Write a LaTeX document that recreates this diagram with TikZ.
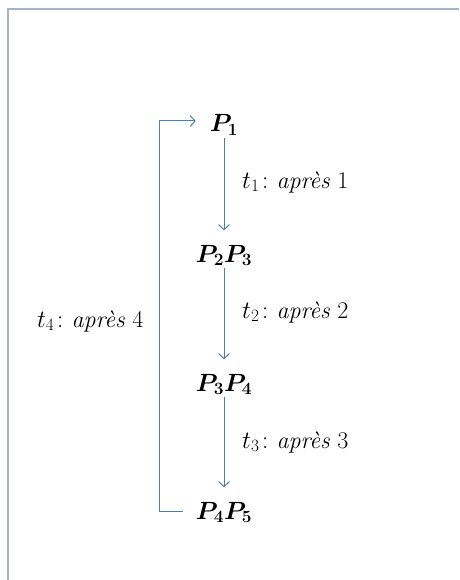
\documentclass[tikz,border=0pt]{standalone}
\usepackage{amsmath}
\usetikzlibrary{arrows.meta}
\definecolor{arrblue}{HTML}{4A7EBB}
\definecolor{framegrey}{HTML}{A5B3C9}
\begin{document}
\begin{tikzpicture}[x=1pt,y=-1pt,
  every node/.style={font=\fontsize{24}{28}\selectfont, inner sep=0pt},
  place/.style={anchor=base},
  lbl/.style={anchor=base west},
  arr/.style={draw=arrblue, line width=1pt, -{Straight Barb[length=5pt,width=11pt]}},
  framer/.style={draw=framegrey, line width=1.2pt}]
\useasboundingbox (0,0) rectangle (459,580);
\draw[framer] (8,580) -- (8,9) -- (459,9);
\node[place] (p1)  at (224,132) {$\boldsymbol{P_1}$};
\node[place] (p23) at (224,262) {$\boldsymbol{P_2P_3}$};
\node[place] (p34) at (224,391) {$\boldsymbol{P_3P_4}$};
\node[place] (p45) at (224,519) {$\boldsymbol{P_4P_5}$};
\node[lbl] (l1) at (242,188) {$t_1\colon$\textit{après} 1};
\node[lbl] (l2) at (242,318) {$t_2\colon$\textit{après} 2};
\node[lbl] (l3) at (242,448) {$t_3\colon$\textit{après} 3};
\node[lbl] (l4) at (37,327) {$t_4\colon$\textit{après} 4};
\draw[arr, shorten <=2.5pt, shorten >=14.5pt] (p1.south) -- (p23.north);
\draw[arr, shorten <=2.5pt, shorten >=14.5pt] (p23.south) -- (p34.north);
\draw[arr, shorten <=2.5pt, shorten >=14.5pt] (p34.south) -- (p45.north);
\draw[arr] ([xshift=-13pt,yshift=8pt]p45.base west) -- ++(-23,0)
  |- ([xshift=-14pt,yshift=11pt]p1.base west);
\end{tikzpicture}
\end{document}
